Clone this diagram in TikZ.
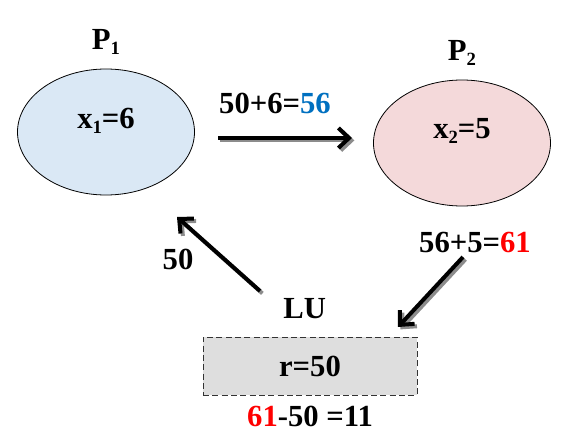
\documentclass[tikz,border=0pt]{standalone}
\usepackage{fontspec}
\setmainfont{Liberation Serif}
\usetikzlibrary{positioning,arrows.meta,shapes.geometric}
\definecolor{procblue}{RGB}{218,232,245}
\definecolor{procpink}{RGB}{244,217,218}
\definecolor{lugray}{RGB}{222,222,222}
\definecolor{sumblue}{RGB}{0,112,192}
\definecolor{shadowgray}{RGB}{140,140,140}
\newcommand{\lsub}[1]{\raisebox{-4pt}{\fontsize{14}{16}\selectfont #1}}
\tikzset{
	x=0.75pt, y=-0.75pt,
	proc/.style ={ellipse, draw, semithick, minimum width=132.75pt, minimum height=94.5pt, inner sep=0pt}, % the two processes
	lbl/.style = {font=\fontsize{23}{27}\selectfont\bfseries, inner sep=1pt},
	lubox/.style = {rectangle, draw=black!80, dash pattern=on 4.5pt off 2.5pt, semithick, fill=lugray, minimum width=160.5pt, minimum height=43.5pt, font=\fontsize{23}{27}\selectfont\bfseries},
	fat arrow/.style = {line width=3pt, -{Straight Barb[length=8pt,width=15pt]}},
	arrow shadow/.style = {fat arrow, color=shadowgray} % grey copy under each arrow
}

\begin{document}
\begin{tikzpicture}
            \useasboundingbox (0,0) rectangle (587,438);
            \node[proc, fill=procblue] (1) at (106,132) {};
            \node[proc, fill=procpink] (2) at (462,143) {};
            \node[lubox] (3) at (310,366) {r=50};
            \node[lbl] (x1) at (106,121) {x\lsub{1}=6};
            \node[lbl] (x2) at (462,131) {x\lsub{2}=5};
            \node[lbl] (p1) [above=9pt of 1] {P\lsub{1}};
            \node[lbl] (p2) [above=9pt of 2] {P\lsub{2}};
            \node[lbl] (lu) [above=12pt of 3, xshift=-4pt] {LU};
            \node[lbl] (rest) [below=7pt of 3] {\textcolor{red}{61}-50 =11};
            \node[lbl] (s1) at (275,103) {50+6=\textcolor{sumblue}{56}};
            \node[lbl] (s2) at (475,243) {56+5=\textcolor{red}{61}};
            \node[lbl] (s3) at (178,259) {50};
            \coordinate (a) at (218,138);
            \coordinate (b) at (352,138);
            \coordinate (c) at (463,257);
            \coordinate (d) at (398,327);
            \coordinate (e) at (260,291);
            \coordinate (f) at (177,217);
            \foreach \s/\t in {a/b, c/d, e/f}{
                \draw[arrow shadow] ([shift={(1.8pt,-1.8pt)}]\s) -- ([shift={(1.8pt,-1.8pt)}]\t);
                \draw[fat arrow] (\s) -- (\t);
            }
        \end{tikzpicture}
\end{document}
